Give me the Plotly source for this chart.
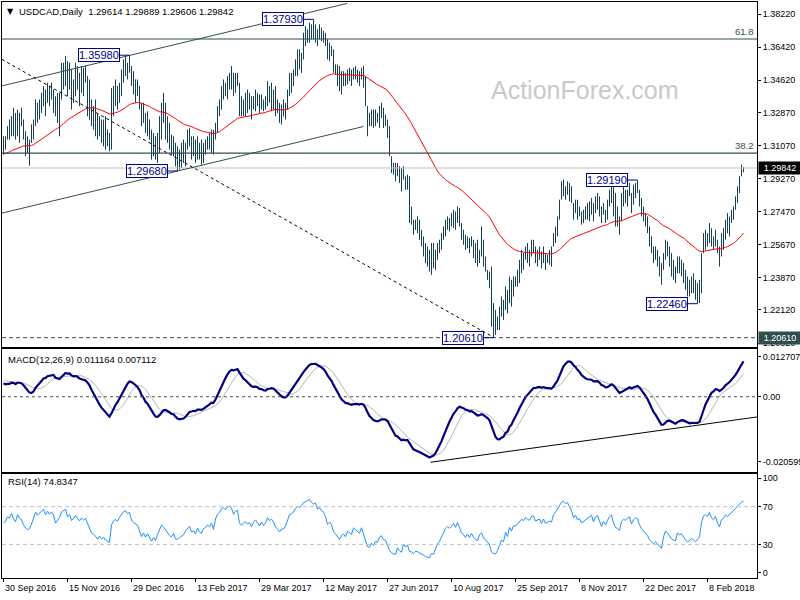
import numpy as np
import plotly.graph_objects as go

# ---------------- data (USDCAD daily) ----------------
HIGH = [
1.3157,1.3157,1.3212,1.3248,1.3266,1.3312,1.3284,1.3302,1.3284,1.3312,
1.3248,1.3184,1.3157,1.3139,1.3221,1.3248,1.3357,1.3339,1.3357,1.3393,
1.3430,1.3411,1.3448,1.3430,1.3448,1.3411,1.3375,1.3393,1.3393,1.3557,
1.3557,1.3593,1.3566,1.3557,1.3520,1.3466,1.3557,1.3539,1.3502,1.3539,
1.3530,1.3539,1.3484,1.3466,1.3357,1.3321,1.3357,1.3284,1.3266,1.3248,
1.3248,1.3266,1.3193,1.3175,1.3420,1.3430,1.3466,1.3430,1.3448,1.3520,
1.3575,1.3593,1.3557,1.3598,1.3539,1.3511,1.3466,1.3466,1.3430,1.3339,
1.3339,1.3284,1.3293,1.3248,1.3193,1.3175,1.3157,1.3175,1.3266,1.3339,
1.3393,1.3339,1.3266,1.3230,1.3166,1.3157,1.3121,1.3102,1.3084,1.3121,
1.3139,1.3121,1.3193,1.3202,1.3157,1.3157,1.3139,1.3157,1.3121,1.3139,
1.3121,1.3139,1.3157,1.3175,1.3193,1.3193,1.3230,1.3321,1.3357,1.3430,
1.3466,1.3448,1.3484,1.3502,1.3539,1.3502,1.3502,1.3502,1.3448,1.3375,
1.3357,1.3393,1.3411,1.3393,1.3375,1.3375,1.3411,1.3393,1.3384,1.3384,
1.3357,1.3375,1.3457,1.3430,1.3448,1.3411,1.3430,1.3357,1.3339,1.3330,
1.3357,1.3339,1.3411,1.3502,1.3502,1.3520,1.3575,1.3630,1.3630,1.3611,
1.3720,1.3757,1.3739,1.3775,1.3766,1.3793,1.3766,1.3739,1.3766,1.3748,
1.3730,1.3720,1.3684,1.3666,1.3648,1.3630,1.3548,1.3548,1.3539,1.3511,
1.3511,1.3502,1.3520,1.3530,1.3520,1.3530,1.3539,1.3520,1.3511,1.3530,
1.3539,1.3484,1.3321,1.3284,1.3302,1.3302,1.3302,1.3284,1.3321,1.3339,
1.3312,1.3275,1.3248,1.3212,1.3048,1.3012,1.3012,1.3012,1.2994,1.2985,
1.2994,1.2939,1.2948,1.2939,1.2775,1.2703,1.2703,1.2721,1.2703,1.2648,
1.2612,1.2576,1.2557,1.2539,1.2576,1.2576,1.2539,1.2576,1.2594,1.2630,
1.2666,1.2703,1.2721,1.2712,1.2739,1.2757,1.2748,1.2775,1.2766,1.2685,
1.2648,1.2621,1.2612,1.2603,1.2612,1.2594,1.2576,1.2594,1.2539,1.2666,
1.2594,1.2503,1.2430,1.2421,1.2448,1.2249,1.2212,1.2176,1.2230,1.2285,
1.2267,1.2339,1.2321,1.2394,1.2376,1.2394,1.2394,1.2430,1.2485,1.2539,
1.2521,1.2557,1.2576,1.2539,1.2594,1.2594,1.2557,1.2539,1.2557,1.2530,
1.2557,1.2521,1.2512,1.2539,1.2557,1.2630,1.2666,1.2721,1.2812,1.2912,
1.2921,1.2885,1.2912,1.2903,1.2885,1.2794,1.2812,1.2812,1.2775,1.2748,
1.2757,1.2775,1.2794,1.2803,1.2821,1.2794,1.2830,1.2848,1.2830,1.2775,
1.2794,1.2757,1.2812,1.2866,1.2903,1.2912,1.2848,1.2775,1.2721,1.2848,
1.2885,1.2866,1.2866,1.2903,1.2848,1.2894,1.2903,1.2919,1.2866,1.2821,
1.2775,1.2739,1.2721,1.2666,1.2612,1.2557,1.2557,1.2539,1.2503,1.2467,
1.2521,1.2594,1.2585,1.2557,1.2521,1.2485,1.2448,1.2503,1.2503,1.2485,
1.2467,1.2430,1.2394,1.2376,1.2394,1.2412,1.2376,1.2358,1.2376,1.2521,
1.2630,1.2648,1.2630,1.2685,1.2657,1.2612,1.2648,1.2594,1.2557,1.2630,
1.2657,1.2703,1.2739,1.2721,1.2757,1.2775,1.2830,1.2885,1.2939,1.3003,
1.29889]

LOW = [
1.3057,1.3084,1.3139,1.3139,1.3157,1.3157,1.3139,1.3157,1.3121,1.3212,
1.3139,1.3048,1.3066,1.2997,1.3121,1.3139,1.3212,1.3230,1.3248,1.3284,
1.3321,1.3266,1.3339,1.3321,1.3357,1.3284,1.3266,1.3230,1.3157,1.3357,
1.3411,1.3430,1.3375,1.3411,1.3302,1.3339,1.3375,1.3411,1.3321,1.3393,
1.3375,1.3448,1.3266,1.3248,1.3212,1.3193,1.3157,1.3139,1.3157,1.3121,
1.3102,1.3084,1.3102,1.3075,1.3084,1.3266,1.3321,1.3302,1.3339,1.3375,
1.3448,1.3484,1.3466,1.3502,1.3430,1.3384,1.3339,1.3375,1.3302,1.3212,
1.3230,1.3175,1.3157,1.3139,1.3030,1.3048,1.3030,1.3012,1.3066,1.3139,
1.3230,1.3139,1.3121,1.3084,1.3057,1.3048,1.2993,1.2968,1.2975,1.2984,
1.3012,1.2993,1.3084,1.3102,1.3030,1.3048,1.3012,1.3030,1.3030,1.3003,
1.3012,1.3057,1.3084,1.3084,1.3066,1.3057,1.3139,1.3175,1.3266,1.3302,
1.3357,1.3375,1.3357,1.3411,1.3411,1.3375,1.3393,1.3430,1.3266,1.3266,
1.3266,1.3266,1.3284,1.3302,1.3248,1.3302,1.3293,1.3321,1.3284,1.3302,
1.3293,1.3302,1.3321,1.3339,1.3293,1.3302,1.3266,1.3284,1.3230,1.3221,
1.3266,1.3248,1.3302,1.3375,1.3393,1.3430,1.3484,1.3484,1.3520,1.3502,
1.3575,1.3648,1.3666,1.3666,1.3684,1.3684,1.3666,1.3648,1.3684,1.3675,
1.3666,1.3648,1.3575,1.3566,1.3593,1.3502,1.3493,1.3430,1.3402,1.3384,
1.3430,1.3430,1.3439,1.3457,1.3430,1.3466,1.3466,1.3448,1.3430,1.3466,
1.3421,1.3321,1.3157,1.3212,1.3212,1.3202,1.3212,1.3230,1.3202,1.3257,
1.3202,1.3212,1.3148,1.3048,1.2957,1.2948,1.2912,1.2939,1.2903,1.2857,
1.2921,1.2866,1.2866,1.2685,1.2676,1.2621,1.2648,1.2630,1.2594,1.2557,
1.2503,1.2467,1.2448,1.2421,1.2403,1.2439,1.2430,1.2485,1.2521,1.2539,
1.2594,1.2612,1.2648,1.2639,1.2666,1.2657,1.2648,1.2685,1.2666,1.2594,
1.2567,1.2539,1.2548,1.2521,1.2557,1.2494,1.2467,1.2448,1.2467,1.2503,
1.2448,1.2421,1.2376,1.2330,1.2121,1.2061,1.2076,1.2103,1.2103,1.2176,
1.2158,1.2212,1.2194,1.2249,1.2230,1.2285,1.2339,1.2339,1.2358,1.2412,
1.2430,1.2485,1.2467,1.2448,1.2503,1.2521,1.2467,1.2448,1.2485,1.2439,
1.2467,1.2430,1.2467,1.2458,1.2448,1.2557,1.2576,1.2612,1.2703,1.2812,
1.2830,1.2812,1.2839,1.2803,1.2794,1.2703,1.2739,1.2703,1.2721,1.2676,
1.2685,1.2703,1.2703,1.2694,1.2730,1.2694,1.2739,1.2757,1.2721,1.2685,
1.2730,1.2685,1.2703,1.2775,1.2794,1.2721,1.2666,1.2666,1.2621,1.2694,
1.2775,1.2794,1.2775,1.2830,1.2739,1.2785,1.2821,1.2848,1.2775,1.2721,
1.2694,1.2666,1.2630,1.2557,1.2521,1.2467,1.2485,1.2448,1.2394,1.2349,
1.2430,1.2485,1.2503,1.2448,1.2394,1.2376,1.2358,1.2412,1.2412,1.2394,
1.2358,1.2321,1.2285,1.2285,1.2303,1.2303,1.2267,1.2246,1.2249,1.2303,
1.2521,1.2539,1.2557,1.2576,1.2557,1.2539,1.2557,1.2521,1.2448,1.2503,
1.2539,1.2594,1.2630,1.2612,1.2685,1.2703,1.2757,1.2794,1.2848,1.2939,
1.29606]

CLOSE = [
1.3120,1.3140,1.3200,1.3190,1.3250,1.3200,1.3170,1.3270,1.3230,1.3220,
1.3160,1.3120,1.3100,1.3110,1.3160,1.3230,1.3330,1.3300,1.3340,1.3370,
1.3400,1.3350,1.3410,1.3380,1.3420,1.3390,1.3300,1.3350,1.3380,1.3480,
1.3500,1.3530,1.3450,1.3490,1.3420,1.3450,1.3500,1.3470,1.3440,1.3480,
1.3460,1.3480,1.3420,1.3380,1.3300,1.3280,1.3250,1.3200,1.3230,1.3180,
1.3200,1.3150,1.3130,1.3110,1.3300,1.3360,1.3380,1.3360,1.3420,1.3470,
1.3520,1.3540,1.3510,1.3530,1.3450,1.3420,1.3400,1.3390,1.3320,1.3230,
1.3270,1.3200,1.3240,1.3160,1.3100,1.3140,1.3080,1.3150,1.3220,1.3280,
1.3250,1.3200,1.3150,1.3110,1.3080,1.3120,1.3020,1.3010,1.3030,1.3050,
1.3060,1.3100,1.3130,1.3150,1.3080,1.3090,1.3050,1.3110,1.3060,1.3040,
1.3090,1.3100,1.3130,1.3110,1.3150,1.3080,1.3210,1.3290,1.3320,1.3400,
1.3420,1.3400,1.3460,1.3480,1.3460,1.3400,1.3460,1.3470,1.3330,1.3300,
1.3330,1.3350,1.3320,1.3340,1.3290,1.3350,1.3380,1.3350,1.3310,1.3360,
1.3320,1.3350,1.3420,1.3390,1.3410,1.3380,1.3320,1.3300,1.3260,1.3290,
1.3290,1.3320,1.3390,1.3460,1.3470,1.3500,1.3560,1.3600,1.3590,1.3620,
1.3680,1.3700,1.3720,1.3750,1.3730,1.3720,1.3740,1.3700,1.3720,1.3700,
1.3690,1.3660,1.3600,1.3620,1.3600,1.3530,1.3510,1.3470,1.3440,1.3470,
1.3480,1.3450,1.3490,1.3480,1.3460,1.3510,1.3490,1.3480,1.3460,1.3500,
1.3440,1.3340,1.3250,1.3240,1.3270,1.3230,1.3260,1.3250,1.3290,1.3300,
1.3250,1.3240,1.3170,1.3060,1.2990,1.2970,1.2940,1.2990,1.2920,1.2880,
1.2950,1.2880,1.2900,1.2720,1.2710,1.2650,1.2670,1.2660,1.2620,1.2580,
1.2530,1.2500,1.2470,1.2450,1.2480,1.2460,1.2500,1.2540,1.2560,1.2600,
1.2640,1.2680,1.2700,1.2680,1.2700,1.2730,1.2690,1.2740,1.2690,1.2620,
1.2600,1.2560,1.2590,1.2540,1.2580,1.2520,1.2490,1.2470,1.2520,1.2540,
1.2470,1.2440,1.2400,1.2350,1.2170,1.2120,1.2100,1.2130,1.2180,1.2230,
1.2190,1.2300,1.2220,1.2350,1.2280,1.2370,1.2360,1.2400,1.2450,1.2480,
1.2460,1.2510,1.2490,1.2480,1.2540,1.2550,1.2490,1.2500,1.2520,1.2470,
1.2530,1.2480,1.2490,1.2510,1.2500,1.2600,1.2640,1.2700,1.2790,1.2850,
1.2880,1.2860,1.2880,1.2840,1.2810,1.2740,1.2780,1.2730,1.2750,1.2700,
1.2720,1.2750,1.2760,1.2780,1.2800,1.2740,1.2800,1.2820,1.2760,1.2710,
1.2770,1.2730,1.2790,1.2840,1.2870,1.2780,1.2720,1.2710,1.2680,1.2800,
1.2830,1.2820,1.2850,1.2870,1.2790,1.2850,1.2880,1.2870,1.2800,1.2750,
1.2720,1.2690,1.2650,1.2580,1.2550,1.2500,1.2520,1.2470,1.2420,1.2380,
1.2490,1.2560,1.2530,1.2480,1.2420,1.2400,1.2390,1.2470,1.2440,1.2450,
1.2390,1.2350,1.2310,1.2330,1.2340,1.2320,1.2290,1.2310,1.2330,1.2480,
1.2580,1.2600,1.2580,1.2650,1.2590,1.2570,1.2620,1.2540,1.2490,1.2600,
1.2620,1.2680,1.2660,1.2700,1.2730,1.2760,1.2810,1.2860,1.2920,1.2960,
1.29842]

LAST_OHLC = [1.29614, 1.29889, 1.29606, 1.29842]

DATE_TICK_BARS = [0, 32, 64, 96, 128, 160, 192, 224, 256, 288, 320, 352]
DATE_TICK_TEXT = ["30 Sep 2016", "15 Nov 2016", "29 Dec 2016", "13 Feb 2017",
                  "29 Mar 2017", "12 May 2017", "27 Jun 2017", "10 Aug 2017",
                  "25 Sep 2017", "8 Nov 2017", "22 Dec 2017", "8 Feb 2018"]
PRICE_TICKS = [1.3822, 1.3642, 1.3462, 1.3287, 1.3107, 1.2927,
               1.2747, 1.2567, 1.2387, 1.2212, 1.2032]
MACD_TICKS = [0.012707, 0.0, -0.020595]
MACD_TICK_TEXT = ["0.012707", "0.00", "-0.020595"]
RSI_TICKS = [100, 70, 30, 0]

FIB_LEVELS = [1.3686, 1.3065]
FIB_NAMES = ["61.8", "38.2"]
SUPPORT_LEVEL = 1.2061

# labelled turning points: bar index, price
PIVOT_BARS = [63, 155, 87, 245, 317, 347]
PIVOT_PRICES = [1.3598, 1.3793, 1.2968, 1.2061, 1.2919, 1.2246]

# drawn trend lines (bar index, price)
UPPER_CHANNEL = [(-0.75, 1.3431), (171.9, 1.3880)]
LOWER_CHANNEL = [(-0.75, 1.2739), (180.0, 1.3210)]
FALLING_LINE = [(-0.75, 1.3575), (245.0, 1.2063)]
MACD_LINE = [(213.5, -0.02076), (377.0, -0.00638)]

MA_SEED = 1.3060
EMA12_SEED = 1.3145
EMA26_SEED = 1.3102
SIGNAL_SEED = 0.0053
RSI_GAIN_SEED = 0.0021
RSI_LOSS_SEED = 0.0019

# ---------------- indicators ----------------
c = np.array(CLOSE)


def ema(x, n, seed):
    a = 2.0 / (n + 1)
    out = np.empty(len(x))
    out[0] = seed
    for k in range(1, len(x)):
        out[k] = out[k - 1] + a * (x[k] - out[k - 1])
    return out


ma55 = ema(c, 55, MA_SEED)
macd = ema(c, 12, EMA12_SEED) - ema(c, 26, EMA26_SEED)
padded = np.concatenate([np.full(8, SIGNAL_SEED), macd])
signal = np.convolve(padded, np.ones(9) / 9.0, mode="valid")

ag, al = RSI_GAIN_SEED, RSI_LOSS_SEED
rsi = []
for k in range(len(c)):
    if k > 0:
        d = c[k] - c[k - 1]
        ag = (ag * 13 + max(d, 0)) / 14
        al = (al * 13 + max(-d, 0)) / 14
    rsi.append(100 - 100 / (1 + ag / al))

n = len(CLOSE)
idx = np.arange(n)

# ---------------- figure ----------------
FONT = "Liberation Sans"
BAR_COLOR = "#153f55"
SLATE = "#2F4F4F"
NAVY_TXT = "#00008B"

bx, by = [], []
for i in range(n):
    bx += [i, i, None]
    by += [LOW[i], HIGH[i], None]

fig = go.Figure()
fig.add_trace(go.Scatter(x=bx, y=by, mode="lines", line=dict(color=BAR_COLOR, width=1),
                         xaxis="x", yaxis="y", hoverinfo="skip"))
fig.add_trace(go.Scatter(x=idx, y=ma55, mode="lines", line=dict(color="red", width=1),
                         xaxis="x", yaxis="y", hoverinfo="skip"))
fig.add_trace(go.Scatter(x=idx, y=signal, mode="lines", line=dict(color="#b4b4b4", width=1),
                         xaxis="x2", yaxis="y2", hoverinfo="skip"))
fig.add_trace(go.Scatter(x=idx, y=macd, mode="lines", line=dict(color="#000080", width=2.2),
                         xaxis="x2", yaxis="y2", hoverinfo="skip"))
fig.add_trace(go.Scatter(x=idx, y=rsi, mode="lines", line=dict(color="#1E90FF", width=1),
                         xaxis="x3", yaxis="y3", hoverinfo="skip"))

XR = [-0.75, 376.75]
axis_common = dict(showline=True, mirror=True, linecolor="black", linewidth=1,
                   showgrid=False, zeroline=False, automargin=False)
tickfont = dict(family=FONT, size=9, color="black")

shapes = []
for lv in FIB_LEVELS:
    shapes.append(dict(type="line", xref="x domain", yref="y", x0=0, x1=1, y0=lv, y1=lv,
                       line=dict(color=SLATE, width=1.2)))
shapes.append(dict(type="line", xref="x domain", yref="y", x0=0, x1=1,
                   y0=LAST_OHLC[3], y1=LAST_OHLC[3], line=dict(color="#c0c0c0", width=1)))
shapes.append(dict(type="line", xref="x domain", yref="y", x0=0, x1=1,
                   y0=SUPPORT_LEVEL, y1=SUPPORT_LEVEL, line=dict(color=SLATE, width=1, dash="4px,3px")))
for (p0, p1), col, dash in [((UPPER_CHANNEL[0], UPPER_CHANNEL[1]), SLATE, "solid"),
                            ((LOWER_CHANNEL[0], LOWER_CHANNEL[1]), SLATE, "solid"),
                            ((FALLING_LINE[0], FALLING_LINE[1]), "black", "3px,3px")]:
    shapes.append(dict(type="line", xref="x", yref="y", x0=p0[0], y0=p0[1], x1=p1[0], y1=p1[1],
                       line=dict(color=col, width=1, dash=dash)))
shapes.append(dict(type="line", xref="x2 domain", yref="y2", x0=0, x1=1, y0=0, y1=0,
                   line=dict(color="#505050", width=1, dash="3px,3px")))
shapes.append(dict(type="line", xref="x2", yref="y2", x0=MACD_LINE[0][0], y0=MACD_LINE[0][1],
                   x1=MACD_LINE[1][0], y1=MACD_LINE[1][1], line=dict(color="black", width=1)))
for lv in (70, 30):
    shapes.append(dict(type="line", xref="x3 domain", yref="y3", x0=0, x1=1, y0=lv, y1=lv,
                       line=dict(color="#c0c0c0", width=1, dash="4px,3px")))


def PX(px):
    return (px - 2) / 755.0


def PY(py):
    return (578 - py) / 576.0


ann = []
ann.append(dict(xref="paper", yref="paper", x=PX(5), y=PY(11), xanchor="left", yanchor="middle",
                text="▼", showarrow=False, font=dict(family="DejaVu Sans", size=8, color="black")))
ann.append(dict(xref="paper", yref="paper", x=PX(17), y=PY(11), xanchor="left", yanchor="middle",
                text="USDCAD,Daily  " + " ".join("%.5f" % v for v in LAST_OHLC),
                showarrow=False, font=dict(family=FONT, size=9.5, color="black")))
ann.append(dict(xref="paper", yref="paper", x=PX(585), y=PY(90), xanchor="center", yanchor="middle",
                text="ActionForex.com", showarrow=False,
                font=dict(family=FONT, size=25, color="#c9c9c9")))
ann.append(dict(xref="paper", yref="paper", x=PX(6), y=PY(359), xanchor="left", yanchor="middle",
                text="MACD(12,26,9) %.6f %.6f" % (0.011164, 0.007112), showarrow=False,
                font=dict(family=FONT, size=9.5, color="black")))
ann.append(dict(xref="paper", yref="paper", x=PX(6), y=PY(481), xanchor="left", yanchor="middle",
                text="RSI(14) %.4f" % 74.8347, showarrow=False,
                font=dict(family=FONT, size=9.5, color="black")))
for lv, nm in zip(FIB_LEVELS, FIB_NAMES):
    ann.append(dict(xref="paper", yref="y", x=1, y=lv, xanchor="right", yanchor="bottom",
                    xshift=-1, text=nm, showarrow=False,
                    font=dict(family=FONT, size=9.5, color=SLATE)))
for b, p in zip(PIVOT_BARS, PIVOT_PRICES):
    ann.append(dict(xref="x", yref="y", x=b, y=p, ax=-31, ay=0, text="%.5f" % p,
                    showarrow=True, arrowhead=0, arrowwidth=1, arrowcolor=NAVY_TXT, standoff=0,
                    bgcolor="white", bordercolor=NAVY_TXT, borderwidth=1, borderpad=0,
                    font=dict(family=FONT, size=11, color=NAVY_TXT)))
ann.append(dict(xref="paper", yref="y", x=1, y=LAST_OHLC[3], xanchor="left", yanchor="middle",
                xshift=1, text="%.5f" % LAST_OHLC[3], showarrow=False, bgcolor="black",
                width=40, height=10, font=dict(family=FONT, size=9, color="white")))
ann.append(dict(xref="paper", yref="y", x=1, y=SUPPORT_LEVEL, xanchor="left", yanchor="middle",
                xshift=1, text="%.5f" % SUPPORT_LEVEL, showarrow=False, bgcolor=SLATE,
                width=40, height=10, font=dict(family=FONT, size=9, color="white")))
# date labels, left-aligned at their tick as in the original
for b, t in zip(DATE_TICK_BARS, DATE_TICK_TEXT):
    ann.append(dict(xref="x3", yref="paper", x=b, y=PY(588), xanchor="left", yanchor="middle",
                    xshift=-1, text=t, showarrow=False, font=dict(family=FONT, size=9, color="black")))

fig.update_layout(
    width=800, height=600, margin=dict(l=2, r=43, t=2, b=22, autoexpand=False),
    paper_bgcolor="white", plot_bgcolor="white", showlegend=False,
    xaxis=dict(domain=[0, 1], range=XR, anchor="y", showticklabels=False, ticks="", **axis_common),
    xaxis2=dict(domain=[0, 1], range=XR, anchor="y2", matches="x", showticklabels=False, ticks="",
                **axis_common),
    xaxis3=dict(domain=[0, 1], range=XR, anchor="y3", matches="x", tickmode="array",
                tickvals=DATE_TICK_BARS, showticklabels=False, ticks="outside", ticklen=3,
                tickcolor="black", **axis_common),
    yaxis=dict(domain=[0.4005, 1.0], range=[1.20087, 1.38874], anchor="x", side="right",
               tickmode="array", tickvals=PRICE_TICKS, ticktext=["%.5f" % v for v in PRICE_TICKS],
               ticks="outside", ticklen=3, tickcolor="black", tickfont=tickfont, **axis_common),
    yaxis2=dict(domain=[0.1845, 0.3970], range=[-0.02377, 0.01505], anchor="x2", side="right",
                tickmode="array", tickvals=MACD_TICKS, ticktext=MACD_TICK_TEXT,
                ticks="outside", ticklen=3, tickcolor="black", tickfont=tickfont, **axis_common),
    yaxis3=dict(domain=[0.0, 0.1811], range=[-5.6, 104.9], anchor="x3", side="right",
                tickmode="array", tickvals=RSI_TICKS, ticktext=[str(v) for v in RSI_TICKS],
                ticks="outside", ticklen=3, tickcolor="black", tickfont=tickfont, **axis_common),
    shapes=shapes, annotations=ann,
)

fig.write_html("out.html", config={"displayModeBar": False},
               post_script="document.body.style.margin='0';document.body.style.overflow='hidden';")
